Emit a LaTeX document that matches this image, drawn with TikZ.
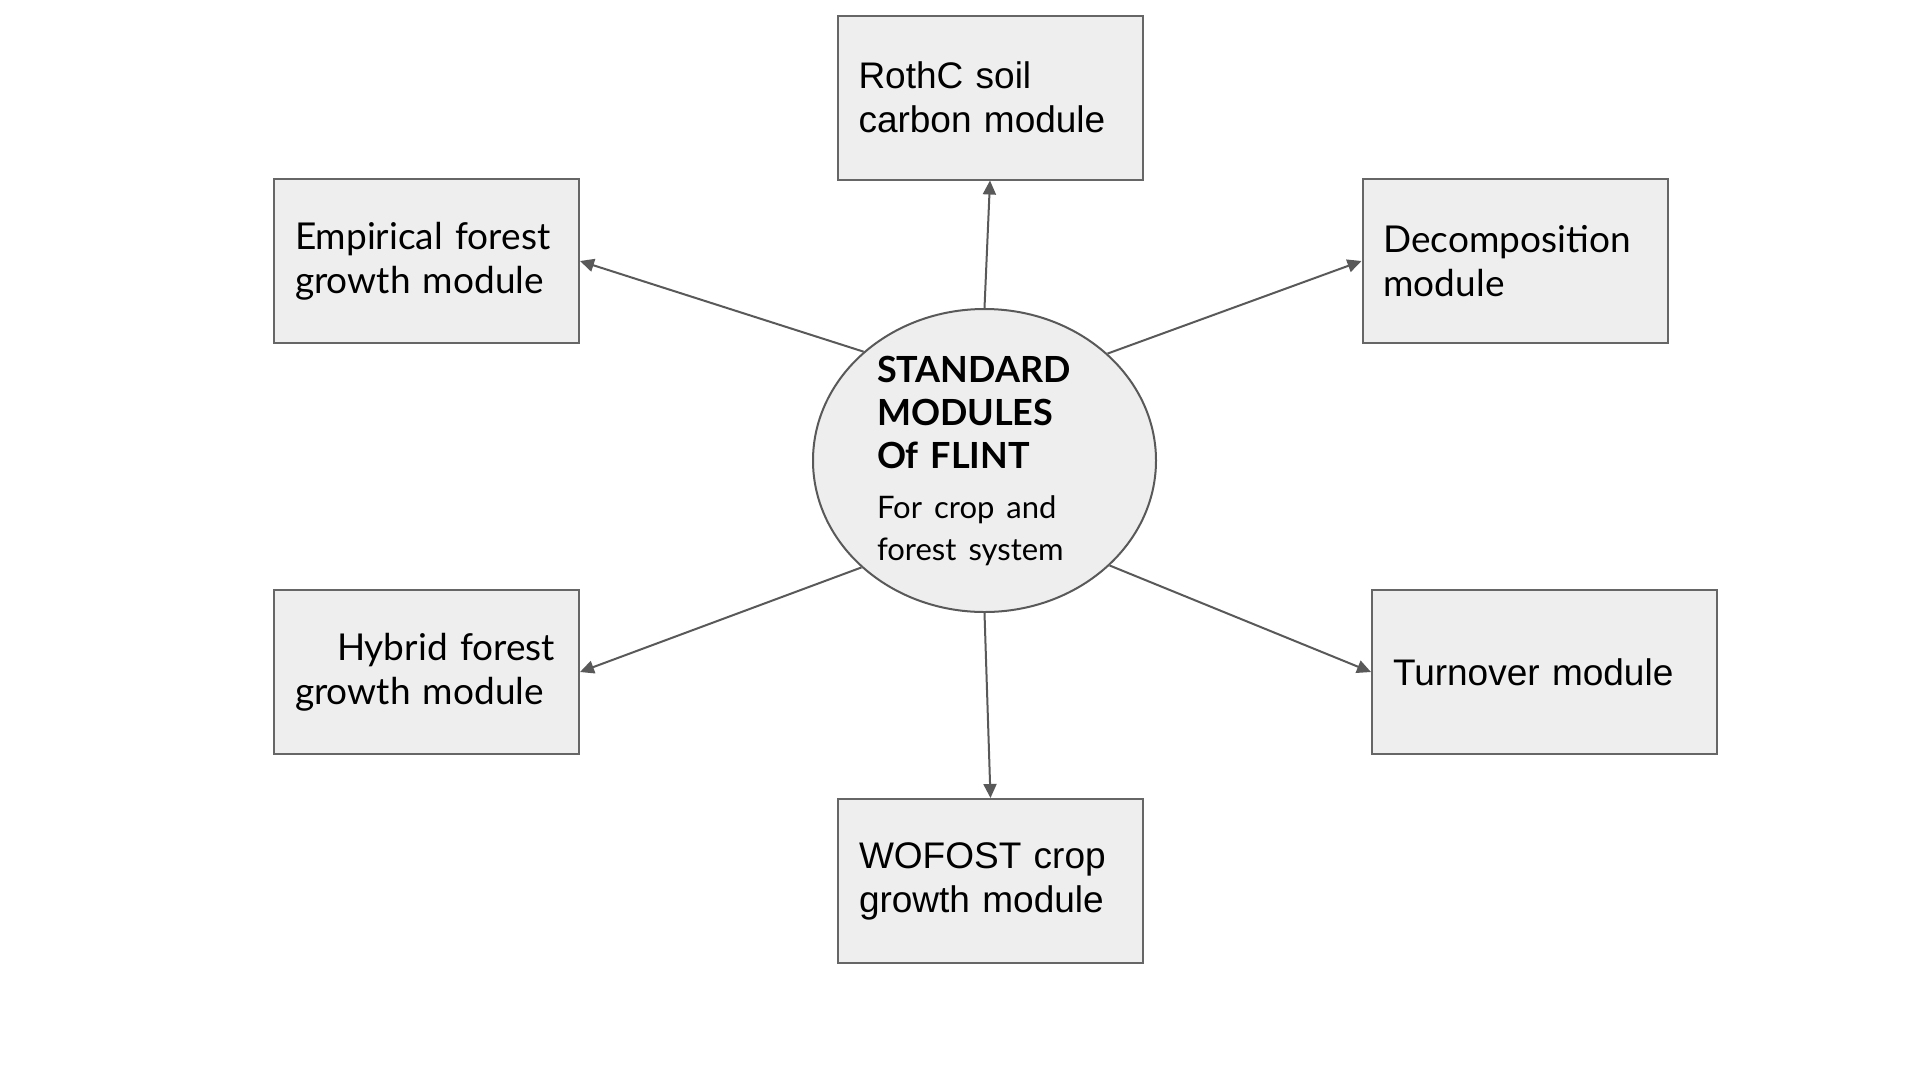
\documentclass[tikz,border=0pt]{standalone}
\usepackage{fontspec}
\setmainfont{Liberation Sans}
\newfontfamily\roundfont{Lato}
\usetikzlibrary{shapes,arrows.meta,positioning}

\definecolor{boxfill}{HTML}{EEEEEE}
\definecolor{boxline}{HTML}{666666}
\definecolor{arrowgray}{HTML}{595959}

\begin{document}
\begin{tikzpicture}[x=1pt, y=-1pt,
		module/.style={draw=boxline, line width=2pt, fill=boxfill, rectangle,
			minimum width=305pt, minimum height=164pt, text width=263pt,
			inner xsep=21pt, inner ysep=0pt, align=left,
			font=\fontsize{37}{44}\selectfont},
		hub/.style={draw=arrowgray, line width=2pt, fill=boxfill, ellipse,
			minimum width=343pt, minimum height=303pt, inner sep=0pt,
			text width=215pt, align=left,
			font=\roundfont\fontsize{36}{43}\selectfont},
		link/.style={draw=arrowgray, line width=2pt,
			-{Triangle[length=14pt, width=13pt]}}]
	
		% Page size
		\useasboundingbox (0,0) rectangle (1920,1080);
		
		% Centre ellipse
		\node[hub] (flint) at (984.5,460.5) {\bfseries STANDARD\\MODULES\\Of FLINT\par
			\vspace{8pt}\fontsize{31}{42}\selectfont\mdseries For crop and\\forest system\par};
		
		% Module boxes
		\node[module] (rothc) at (990,97.5) {RothC soil\\carbon module};
		\node[module] (empirical) at (426.5,261) {\roundfont Empirical forest\\growth module};
		\node[module] (decomp) at (1515,261) {\roundfont Decomposition\\module};
		\node[module] (hybrid) at (426.5,672) {\roundfont\hspace*{42pt}Hybrid forest\\growth module};
		\node[module, minimum width=345pt, text width=303pt] (turnover) at (1544.5,672) {Turnover module};
		\node[module] (wofost) at (990.5,881) {WOFOST crop\\growth module};
		
		% Arrows out of the ellipse
		\draw[link] (flint.north) -- (rothc.south);
		\draw[link] (flint.138.7) -- (empirical.east);
		\draw[link] (flint.41.3) -- (decomp.west);
		\draw[link] (flint.221.3) -- (hybrid.east);
		\draw[link] (flint.320.7) -- (turnover.west);
		\draw[link] (flint.south) -- (wofost.north);
	\end{tikzpicture}
\end{document}
